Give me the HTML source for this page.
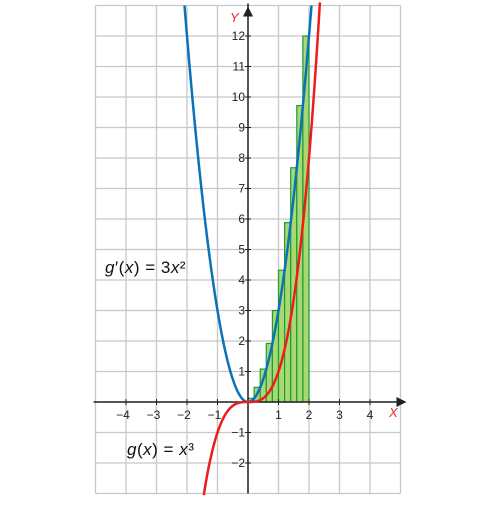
<!DOCTYPE html>
<html><head><meta charset="utf-8"><style>
body{margin:0;background:#fff}
svg text{font-family:"Liberation Sans",sans-serif}
</style></head><body>
<svg id="c" width="500" height="500"></svg>
<script>
const xTicks=[-4,-3,-2,-1,1,2,3,4];
const yTicks=[-2,-1,1,2,3,4,5,6,7,8,9,10,11,12];
const barLefts=[0,0.2,0.4,0.6,0.8,1.0,1.2,1.4,1.6,1.8];
const barHeights=[0.12,0.48,1.08,1.92,3,4.32,5.88,7.68,9.72,12];
const barWidth=0.2;
const ox=248, oy=402, u=30.5;
const X=v=>ox+v*u, Y=v=>oy-v*u;
const s=document.getElementById('c');
const NS='http://www.w3.org/2000/svg';
function el(t,a,p){const e=document.createElementNS(NS,t);for(const k in a)e.setAttribute(k,a[k]);(p||s).appendChild(e);return e;}
const g=el('g',{});


for(let i=-5;i<=5;i++){el('line',{x1:X(i),x2:X(i),y1:Y(13),y2:Y(-3),stroke:'#c8c8c8','stroke-width':1.3},g);}
for(let j=-3;j<=13;j++){el('line',{x1:X(-5),x2:X(5),y1:Y(j),y2:Y(j),stroke:'#c8c8c8','stroke-width':1.3},g);}
const bg=el('g',{});


barLefts.forEach((l,i)=>{const r=el('rect',{x:X(l),y:Y(barHeights[i]),width:barWidth*u,height:barHeights[i]*u,fill:'#a8d870',stroke:'#1e9a3a','stroke-width':1.2},bg);

});
const ax=el('g',{});


el('line',{x1:X(-5)-2,x2:X(5)+2,y1:oy,y2:oy,stroke:'#222','stroke-width':1.5},ax);
el('polygon',{points:`${X(5)+6},${oy} ${X(5)-4},${oy-5} ${X(5)-4},${oy+5}`,fill:'#222'},ax);
el('line',{x1:ox,x2:ox,y1:Y(13)-2,y2:Y(-3),stroke:'#222','stroke-width':1.5},ax);
el('polygon',{points:`${ox},${Y(13)+1} ${ox-5},${Y(13)+11} ${ox+5},${Y(13)+11}`,fill:'#222'},ax);
xTicks.forEach(v=>{el('line',{x1:X(v),x2:X(v),y1:oy-3,y2:oy+3,stroke:'#222'},ax);
const t=el('text',{x:X(v)-(v<0?3:0),y:oy+17,'font-size':12,'text-anchor':'middle',fill:'#222'},ax);t.textContent=(v<0?'\u2212'+(-v):v);});
yTicks.forEach(v=>{el('line',{x1:ox-3,x2:ox+3,y1:Y(v),y2:Y(v),stroke:'#222'},ax);
const t=el('text',{x:ox-3,y:Y(v)+4,'font-size':12,'text-anchor':'end',fill:'#222'},ax);t.textContent=(v<0?'\u2212'+(-v):v);});
const xl=el('text',{x:389,y:417,'font-size':13,'font-style':'italic',fill:'#e8262a'},ax);xl.textContent='X';

const yl=el('text',{x:230,y:22,'font-size':13,'font-style':'italic',fill:'#e8262a'},ax);yl.textContent='Y';

function curve(f,a,b,col,name){let d='';for(let i=0;i<=200;i++){const x=a+(b-a)*i/200;d+=(i?'L':'M')+X(x).toFixed(2)+','+Y(f(x)).toFixed(2);}
const p=el('path',{d:d,fill:'none',stroke:col,'stroke-width':2.5});

}
curve(x=>3*x*x,-Math.sqrt(13/3),Math.sqrt(13/3),'#0a72b8','derivative-curve');
curve(x=>x*x*x,-Math.cbrt(3.05),Math.cbrt(13.1),'#ee1c1c','cubic-curve');
const l1=el('text',{x:105,y:273,'font-size':17,fill:'#111','letter-spacing':'0.5'});l1.innerHTML='<tspan font-style="italic">g</tspan>′(<tspan font-style="italic">x</tspan>) = 3<tspan font-style="italic">x</tspan>²';


const l2=el('text',{x:127,y:455,'font-size':17,fill:'#111','letter-spacing':'0.5'});l2.innerHTML='<tspan font-style="italic">g</tspan>(<tspan font-style="italic">x</tspan>) = <tspan font-style="italic">x</tspan>³';


</script>
</body></html>
